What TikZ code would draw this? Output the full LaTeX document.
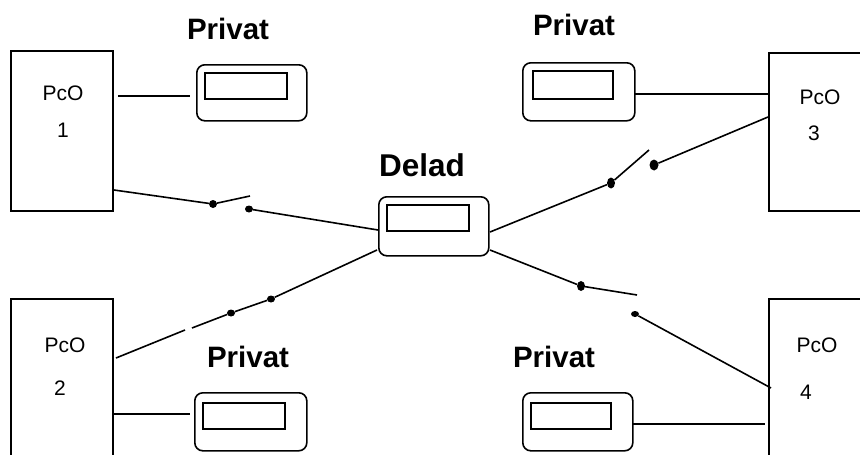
\documentclass[tikz,border=0pt]{standalone}
\usepackage{fontspec}
\setmainfont{Liberation Sans}
\tikzset{
    pcobox/.style={rectangle, draw, line width=1.6pt, anchor=north west},
    outerbox/.style={rectangle, draw, line width=1.6pt, rounded corners=8pt, anchor=north west},
    innerbox/.style={rectangle, draw, line width=1.6pt, anchor=north west},
    title/.style={font=\fontsize{29.5}{32}\selectfont\bfseries},
    titlebig/.style={font=\fontsize{31.5}{34}\selectfont\bfseries},
    pcotext/.style={font=\fontsize{21}{24}\selectfont},
    contact/.style={ellipse, fill=black, inner sep=0pt, minimum width=8pt, minimum height=8pt},
    wire/.style={line width=1.6pt}
}
\usetikzlibrary{shapes.geometric}
\begin{document}
\begin{tikzpicture}[x=1pt, y=-1pt]
    \useasboundingbox (0, 0) rectangle (860, 455);
    \clip (0, 0) rectangle (860, 455);

    % PcO boxes
    \node (pcoa) at (10, 50) [pcobox, minimum width=102pt, minimum height=160pt] {};
    \node (pcob) at (10, 298) [pcobox, minimum width=102pt, minimum height=180pt] {};
    \node (pcoc) at (768, 52) [pcobox, minimum width=120pt, minimum height=158pt] {};
    \node (pcod) at (768, 298) [pcobox, minimum width=120pt, minimum height=180pt] {};
    \node (pcoatext) at (63, 93) [pcotext] {PcO};
    \node (pcoanum) at (63, 130) [pcotext] {1};
    \node (pcobtext) at (65, 345) [pcotext] {PcO};
    \node (pcobnum) at (60, 388) [pcotext] {2};
    \node (pcoctext) at (820, 97) [pcotext] {PcO};
    \node (pcocnum) at (814, 133) [pcotext] {3};
    \node (pcodtext) at (817, 345) [pcotext] {PcO};
    \node (pcodnum) at (806, 392) [pcotext] {4};

    % private displays
    \node (priva) at (196, 64) [outerbox, minimum width=110pt, minimum height=56pt] {};
    \node (privainner) at (204, 72) [innerbox, minimum width=82pt, minimum height=26pt] {};
    \node (privb) at (194, 392) [outerbox, minimum width=112pt, minimum height=58pt] {};
    \node (privbinner) at (202, 402) [innerbox, minimum width=82pt, minimum height=26pt] {};
    \node (privc) at (522, 62) [outerbox, minimum width=112pt, minimum height=58pt] {};
    \node (privcinner) at (532, 70) [innerbox, minimum width=80pt, minimum height=28pt] {};
    \node (privd) at (522, 392) [outerbox, minimum width=110pt, minimum height=58pt] {};
    \node (privdinner) at (530, 402) [innerbox, minimum width=80pt, minimum height=26pt] {};
    \node (privatexta) at (228, 29) [title] {Privat};
    \node (privatextb) at (248, 357) [title] {Privat};
    \node (privatextc) at (574, 25) [title] {Privat};
    \node (privatextd) at (554, 357) [title] {Privat};

    % shared display
    \node (delad) at (378, 196) [outerbox, minimum width=110pt, minimum height=59pt] {};
    \node (deladinner) at (386, 204) [innerbox, minimum width=82pt, minimum height=26pt] {};
    \node (deladtext) at (422, 165) [titlebig] {Delad};

    % contacts
    \node (kaa) at (213, 204) [contact] {};
    \node (kab) at (249, 209) [contact, minimum height=7pt] {};
    \node (kba) at (231, 313) [contact, minimum height=7pt] {};
    \node (kbb) at (271, 299) [contact, minimum height=7pt] {};
    \node (kca) at (611, 183) [contact, minimum height=11pt] {};
    \node (kcb) at (654, 165) [contact, minimum width=9pt, minimum height=11pt] {};
    \node (kda) at (581, 286) [contact, minimum height=10pt] {};
    \node (kdb) at (635, 314) [contact, minimum height=6pt] {};

    % free ends
    \coordinate (pa) at (118, 96);
    \coordinate (qa) at (190, 96);
    \coordinate (pb) at (114, 414);
    \coordinate (qb) at (190, 414);
    \coordinate (pc) at (634, 94);
    \coordinate (qc) at (768, 94);
    \coordinate (pd) at (633, 424);
    \coordinate (qd) at (765, 424);
    \coordinate (sa) at (114, 190);
    \coordinate (ea) at (250, 196);
    \coordinate (da) at (378, 230);
    \coordinate (sb) at (116, 358);
    \coordinate (gb) at (185, 330);
    \coordinate (hb) at (192, 328);
    \coordinate (db) at (377, 250);
    \coordinate (dc) at (490, 232);
    \coordinate (ec) at (649, 150);
    \coordinate (sc) at (768, 117);
    \coordinate (dd) at (490, 250);
    \coordinate (ed) at (637, 295);
    \coordinate (sd) at (771, 388);

    % wires
    \draw[wire] (pa) -- (qa);
    \draw[wire] (pb) -- (qb);
    \draw[wire] (pc) -- (qc);
    \draw[wire] (pd) -- (qd);

    \draw[wire] (sa) -- (kaa) -- (ea);
    \draw[wire] (kab) -- (da);

    \draw[wire] (sb) -- (gb);
    \draw[wire] (hb) -- (kba) -- (kbb) -- (db);

    \draw[wire] (dc) -- (kca) -- (ec);
    \draw[wire] (kcb) -- (sc);

    \draw[wire] (dd) -- (kda) -- (ed);
    \draw[wire] (kdb) -- (sd);
\end{tikzpicture}
\end{document}
